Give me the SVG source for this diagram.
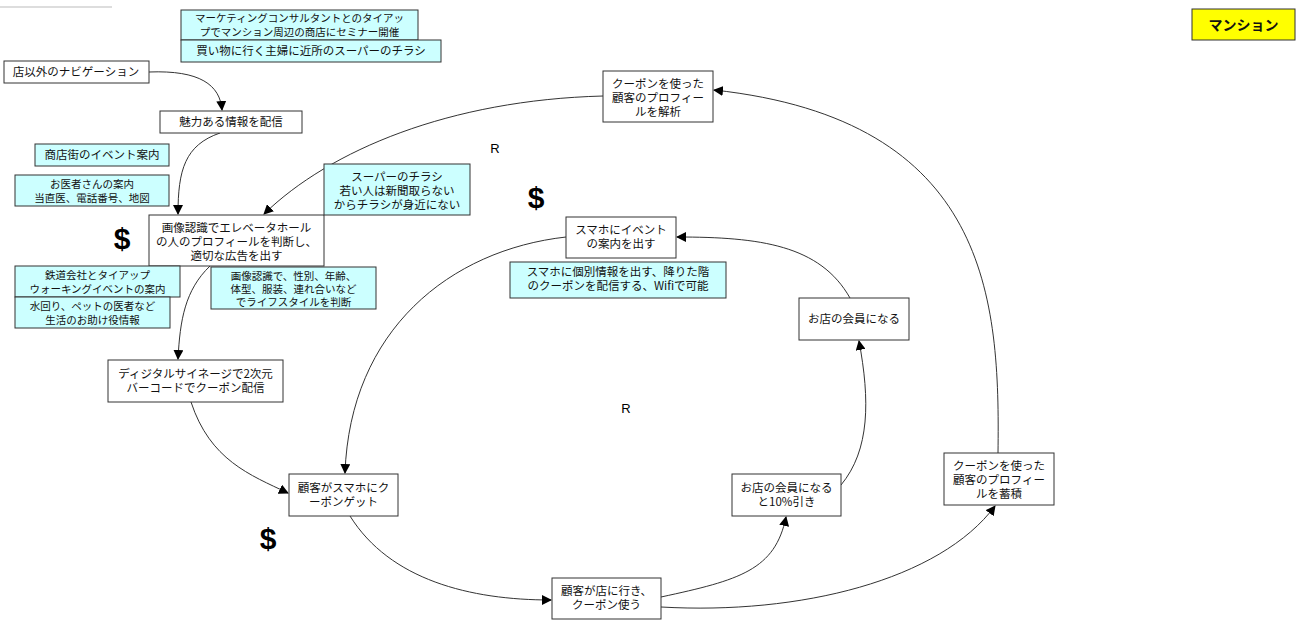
<svg xmlns="http://www.w3.org/2000/svg" width="1300" height="621" viewBox="0 0 1300 621">
<style>
.b{fill:#fff;stroke:#333;stroke-width:1}
.c{fill:#ccffff;stroke:#333;stroke-width:1}
.y{fill:#ffff00;stroke:#333;stroke-width:1}
text{font-family:"Noto Sans CJK JP","Liberation Sans",sans-serif;font-size:11.5px;fill:#111;text-anchor:middle}
text.s{font-size:10.5px}
.d{font-family:"Liberation Sans",sans-serif;font-size:30px;font-weight:bold;fill:#000}
.r{font-family:"Liberation Sans",sans-serif;font-size:13px;fill:#000}
.k path{fill:none;stroke:#333;stroke-width:1;marker-end:url(#a)}
</style>
<defs>
<marker id="a" viewBox="0 0 10 10" refX="9" refY="5" markerWidth="10" markerHeight="10" markerUnits="userSpaceOnUse" orient="auto">
<path d="M0,0 L10,5 L0,10 z" fill="#000"/>
</marker>
</defs>
<rect width="1300" height="621" fill="#fff"/>
<line x1="0" y1="7" x2="112" y2="7" stroke="#bbb" stroke-width="1"/>
<g class="k" id="connectors">
<path d="M149,72 C200,70 220,85 222,110"/>
<path d="M220,133 C185,145 178,170 178,214"/>
<path d="M603,96 C450,100 330,150 264,214"/>
<path d="M210,266 C185,290 180,320 178,359"/>
<path d="M191,402 C210,460 250,475 288,493"/>
<path d="M566,237 C450,250 350,330 345,473"/>
<path d="M350,516 C390,580 470,600 551,600"/>
<path d="M661,597 C740,580 775,570 786,517"/>
<path d="M661,607 C800,615 940,580 995,506"/>
<path d="M841,485 C870,450 870,400 859,341"/>
<path d="M850,298 C820,245 760,237 677,237"/>
<path d="M998,453 C1000,300 990,120 714,90"/>
</g>
<g id="n1"><rect class="c" x="181" y="10" width="237" height="30"/><text class="s" x="299.5" y="22">マーケティングコンサルタントとのタイアッ</text><text class="s" x="299.5" y="36">プでマンション周辺の商店にセミナー開催</text></g>
<g id="n2"><rect class="c" x="181" y="40" width="260" height="22"/><text x="311" y="55">買い物に行く主婦に近所のスーパーのチラシ</text></g>
<g id="n3"><rect class="b" x="4" y="61" width="145" height="22"/><text x="76" y="76">店以外のナビゲーション</text></g>
<g id="n4"><rect class="b" x="160" y="111" width="142" height="22"/><text x="231" y="126">魅力ある情報を配信</text></g>
<g id="n5"><rect class="c" x="35" y="144" width="134" height="22"/><text x="102" y="159">商店街のイベント案内</text></g>
<g id="n6"><rect class="c" x="15" y="175" width="154" height="31"/><text class="s" x="92" y="188">お医者さんの案内</text><text class="s" x="92" y="202">当直医、電話番号、地図</text></g>
<g id="n7"><rect class="b" x="149" y="215" width="175" height="51"/><text x="236.5" y="232">画像認識でエレベータホール</text><text x="236.5" y="246">の人のプロフィールを判断し、</text><text x="236.5" y="260">適切な広告を出す</text></g>
<g id="n8"><rect class="c" x="324" y="164" width="146" height="51"/><text x="397" y="181">スーパーのチラシ</text><text x="397" y="195">若い人は新聞取らない</text><text x="397" y="209">からチラシが身近にない</text></g>
<g id="n9"><rect class="c" x="15" y="266" width="165" height="31"/><text class="s" x="97.5" y="279">鉄道会社とタイアップ</text><text class="s" x="97.5" y="293">ウォーキングイベントの案内</text></g>
<g id="n10"><rect class="c" x="15" y="297" width="155" height="31"/><text class="s" x="92.5" y="310">水回り、ペットの医者など</text><text class="s" x="92.5" y="324">生活のお助け役情報</text></g>
<g id="n11"><rect class="c" x="211" y="267" width="165" height="42"/><text class="s" x="293.5" y="280">画像認識で、性別、年齢、</text><text class="s" x="293.5" y="293">体型、服装、連れ合いなど</text><text class="s" x="293.5" y="306">でライフスタイルを判断</text></g>
<g id="n12"><rect class="b" x="108" y="360" width="175" height="42"/><text x="195.5" y="378">ディジタルサイネージで2次元</text><text x="195.5" y="392">バーコードでクーポン配信</text></g>
<g id="n13"><rect class="b" x="289" y="474" width="109" height="42"/><text x="343.5" y="492">顧客がスマホにク</text><text x="343.5" y="506">ーポンゲット</text></g>
<g id="n14"><rect class="b" x="552" y="578" width="109" height="41"/><text x="606.5" y="595">顧客が店に行き、</text><text x="606.5" y="609">クーポン使う</text></g>
<g id="n15"><rect class="b" x="732" y="474" width="109" height="42"/><text x="786.5" y="492">お店の会員になる</text><text x="786.5" y="506">と10%引き</text></g>
<g id="n16"><rect class="b" x="944" y="453" width="110" height="52"/><text x="999" y="470">クーポンを使った</text><text x="999" y="484">顧客のプロフィー</text><text x="999" y="498">ルを蓄積</text></g>
<g id="n17"><rect class="b" x="799" y="298" width="110" height="42"/><text x="854" y="323">お店の会員になる</text></g>
<g id="n18"><rect class="b" x="566" y="217" width="110" height="41"/><text x="621" y="234">スマホにイベント</text><text x="621" y="248">の案内を出す</text></g>
<g id="n19"><rect class="c" x="510" y="262" width="216" height="36"/><text x="618" y="276">スマホに個別情報を出す、降りた階</text><text x="618" y="290">のクーポンを配信する、Wifiで可能</text></g>
<g id="n20"><rect class="b" x="603" y="71" width="110" height="51"/><text x="658" y="88">クーポンを使った</text><text x="658" y="102">顧客のプロフィー</text><text x="658" y="116">ルを解析</text></g>
<g id="n21"><rect class="y" x="1192" y="9" width="103" height="31"/><text x="1243.5" y="30" style="font-size:14px;font-weight:bold">マンション</text></g>
<text class="d" x="122" y="249">$</text>
<text class="d" x="536" y="208">$</text>
<text class="d" x="268" y="549">$</text>
<text class="r" x="495" y="153">R</text>
<text class="r" x="626" y="413">R</text>
</svg>
